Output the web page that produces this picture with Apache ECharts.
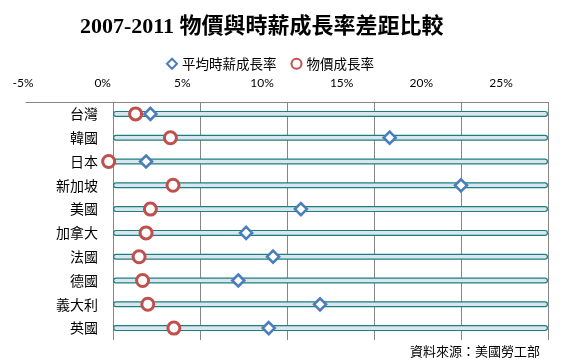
<!DOCTYPE html>
<html><head><meta charset="utf-8">
<script src="https://cdn.jsdelivr.net/npm/echarts@6/dist/echarts.min.js"></script>
<style>html,body{margin:0;padding:0;background:#fff}#c{width:577px;height:363px}</style>
</head><body><div id="c"></div>
<script>
const categories = ['台灣','韓國','日本','新加坡','美國','加拿大','法國','德國','義大利','英國'];
const wageGrowth = [2.15, 15.9, 1.9, 20.0, 10.8, 7.65, 9.2, 7.2, 11.9, 8.95];
const priceGrowth = [1.3, 3.3, -0.25, 3.45, 2.15, 1.9, 1.5, 1.7, 2.0, 3.5];
const trackValues = [25, 25, 25, 25, 25, 25, 25, 25, 25, 25];
const xMin = -5, xMax = 25, xStep = 5;

const gridLeft = 26, gridRight = 29, chartW = 577;
const plotW = chartW - gridLeft - gridRight;
const zeroOffset = -(0 - xMin) / (xMax - xMin) * plotW;

const chart = echarts.init(document.getElementById('c'));
const cjk = "'Noto Sans CJK TC', 'Noto Sans CJK SC', sans-serif";
chart.setOption({
  animation: false,
  backgroundColor: '#fff',
  title: {
    text: '2007-2011 物價與時薪成長率差距比較',
    left: 75, top: 11,
    textStyle: { fontFamily: "'Liberation Serif', 'Noto Sans CJK TC', serif", fontWeight: 'bold', fontSize: 22, color: '#000' }
  },
  legend: {
    data: ['平均時薪成長率', '物價成長率'],
    left: 161, top: 52,
    itemWidth: 10, itemHeight: 10, itemGap: 14,
    textStyle: { fontFamily: cjk, fontSize: 13.5, color: '#000' }
  },
  grid: [
    { left: gridLeft, right: gridRight, top: 102, bottom: 23, containLabel: false, outerBoundsMode: 'none' },
    { left: 23, right: 76, top: 102, height: 10, containLabel: false, outerBoundsMode: 'none' }
  ],
  xAxis: [
    {
      gridIndex: 0, type: 'value', position: 'top', min: xMin, max: xMax, interval: xStep,
      axisLabel: { show: false }, axisTick: { show: false },
      axisLine: { show: true, onZero: false, lineStyle: { color: '#868686', width: 1 } },
      splitLine: { show: true, showMinLine: false, lineStyle: { color: '#868686', width: 1 } }
    },
    {
      gridIndex: 1, type: 'value', position: 'top', min: xMin, max: xMax, interval: xStep,
      axisLine: { show: false }, axisTick: { show: false }, splitLine: { show: false },
      axisLabel: { margin: 13, fontFamily: "Lato, 'Open Sans', sans-serif", fontSize: 12, color: '#000',
        formatter: v => v + '%' }
    }
  ],
  yAxis: [
    {
      gridIndex: 0, type: 'category', data: categories, inverse: true,
      position: 'left', offset: zeroOffset,
      axisLine: { show: false, onZero: false },
      axisTick: { show: false }, splitLine: { show: false },
      axisLabel: { margin: 15, fontFamily: cjk, fontSize: 14, color: '#000' }
    },
    { gridIndex: 1, type: 'category', data: ['a'], show: false }
  ],
  series: [
    {
      type: 'bar', xAxisIndex: 0, yAxisIndex: 0, data: trackValues, barWidth: 6, silent: true, z: 1,
      itemStyle: { color: '#dce5ef', borderColor: '#18817f', borderWidth: 1.2, borderRadius: 3 }
    },
    {
      name: '平均時薪成長率', type: 'scatter', xAxisIndex: 0, yAxisIndex: 0, z: 3,
      data: wageGrowth.map((v, i) => [v, i]),
      symbol: 'diamond', symbolSize: 12,
      itemStyle: { color: '#fff', borderColor: '#4a7ebb', borderWidth: 2.6, opacity: 1 }
    },
    {
      name: '物價成長率', type: 'scatter', xAxisIndex: 0, yAxisIndex: 0, z: 4,
      data: priceGrowth.map((v, i) => [v, i]),
      symbol: 'circle', symbolSize: 12,
      itemStyle: { color: '#fff', borderColor: '#c0504d', borderWidth: 3, opacity: 1 }
    },
    { type: 'scatter', xAxisIndex: 1, yAxisIndex: 1, data: [] }
  ],
  graphic: [
    { type: 'text', right: 37, top: 345,
      style: { text: '資料來源：美國勞工部', font: "13px 'Noto Sans CJK TC', serif", fill: '#000' } }
  ]
});
</script></body></html>
